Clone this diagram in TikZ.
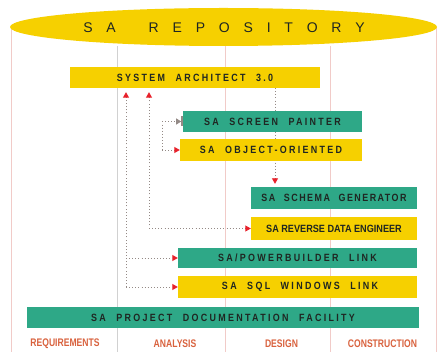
\documentclass[tikz,border=0pt]{standalone}
\usepackage{fontspec}
\setmainfont{Liberation Sans}
\newfontfamily\caixafont[FakeStretch=0.85,LetterSpace=22,WordSpace=2.2]{Liberation Sans}
\newfontfamily\rdefont[FakeStretch=0.87]{Liberation Sans}
\newfontfamily\fasefont[FakeStretch=0.78]{Liberation Sans}
\newfontfamily\repofont{Liberation Sans}
\newcommand\espl{\kern13.8pt}
\usetikzlibrary{arrows.meta,backgrounds}
\definecolor{amarelo}{HTML}{F6D000}
\definecolor{verde}{HTML}{2EA887}
\definecolor{fasecor}{HTML}{D9623E}
\definecolor{rosa}{HTML}{F1CBC8}
\definecolor{pontcor}{HTML}{948A86}
\definecolor{setacor}{HTML}{E8202A}
\definecolor{texto}{HTML}{1F2622}

\begin{document}
\begin{tikzpicture}[x=1pt, y=-1pt,
  caixa/.style={inner sep=0pt, font=\caixafont\bfseries\fontsize{10.5}{12}\selectfont, text=texto},
  am/.style={caixa, fill=amarelo},
  vd/.style={caixa, fill=verde},
  fase/.style={font=\fasefont\bfseries\fontsize{11}{12}\selectfont, text=fasecor},
  coluna/.style={draw=rosa, line width=0.9pt},
  pont/.style={draw=pontcor, line width=0.9pt, dash pattern=on 0.9pt off 2.2pt},
  ponta/.tip={Triangle[length=5.5pt, width=6pt, color=setacor]},
  barra/.tip={Triangle[length=5pt, width=6pt, color=pontcor] Bar[width=10pt, line width=1.6pt, color=pontcor]},
]
  % unidades em pt, y para baixo · página 439 x 352
  \useasboundingbox (0,0) rectangle (439,352);
  \begin{pgfonlayer}{background}
    \fill[white] (0,0) rectangle (439,352);
  \end{pgfonlayer}

  \draw[coluna] (11,27) -- (11,352);
  \draw[coluna] (436,27) -- (436,352);
  \draw[coluna, draw=black!18] (117,46) -- (117,352);
  \draw[coluna] (225,46) -- (225,352);
  \draw[coluna] (330,46) -- (330,352);

  % o repositório: tampa do cilindro
  \fill[amarelo] (223.5,27) ellipse [x radius=213.5, y radius=19];
  \node[font=\repofont\fontsize{14}{16}\selectfont, text=texto, inner sep=0pt] (repo) at (224,28)
       {S\espl A\kern33pt R\espl E\espl P\espl O\espl S\espl I\espl T\espl O\espl R\espl Y};

  \node[am, minimum width=250pt, minimum height=21pt] (arch)   at (195,77.5)  {SYSTEM ARCHITECT 3.0};
  \node[vd, minimum width=179pt, minimum height=21pt] (screen) at (272.5,121.5) {SA SCREEN PAINTER};
  \node[am, minimum width=182pt, minimum height=22pt] (oo)     at (271,150)   {SA OBJECT-ORIENTED};
  \node[vd, minimum width=166pt, minimum height=22pt] (schema) at (334,198)
       {\addfontfeature{LetterSpace=14}SA SCHEMA GENERATOR};
  \node[am, minimum width=166pt, minimum height=23pt, font=\rdefont\bfseries\fontsize{10.5}{12}\selectfont]
       (rde) at (334,228.5) {SA REVERSE DATA ENGINEER};
  \node[vd, minimum width=239pt, minimum height=20pt] (pb)     at (297.5,258) {SA/POWERBUILDER LINK};
  \node[am, minimum width=239pt, minimum height=22pt] (sqlw)   at (297.5,287) {\hspace*{5pt}SA SQL WINDOWS LINK};
  \node[vd, minimum width=392pt, minimum height=21pt] (doc)    at (223,317.5) {SA PROJECT DOCUMENTATION FACILITY};

  \node[fase] (req)  at (65,344)    {REQUIREMENTS};
  \node[fase] (ana)  at (175,344)   {ANALYSIS};
  \node[fase] (des)  at (281.5,344) {DESIGN};
  \node[fase] (cons) at (382.5,344) {CONSTRUCTION};

  \coordinate (colA) at (126,0);
  \coordinate (colB) at (149,0);
  \coordinate (colC) at (162,0);
  \coordinate (colD) at (275,0);

  \begin{pgfonlayer}{background}
    \draw[pont, -{ponta}, shorten >=3pt] (arch.south -| colD) -- (schema.north -| colD);
  \end{pgfonlayer}

  \draw[pont, -{ponta}, shorten >=4pt] (sqlw.west -| colA) -- (arch.south -| colA);
  \draw[pont, -{ponta}] (pb.west -| colA) -- (pb.west);
  \draw[pont, -{ponta}] (sqlw.west -| colA) -- (sqlw.west);
  \draw[pont, -{ponta}, shorten >=4pt] (rde.west -| colB) -- (arch.south -| colB);
  \draw[pont, -{ponta}] (rde.west -| colB) -- (rde.west);
  \draw[pont] (screen.west -| colC) -- (oo.west -| colC);
  \draw[pont, -{barra}] (screen.west -| colC) -- (screen.west);
  \draw[pont, -{ponta}] (oo.west -| colC) -- (oo.west);
\end{tikzpicture}
\end{document}
